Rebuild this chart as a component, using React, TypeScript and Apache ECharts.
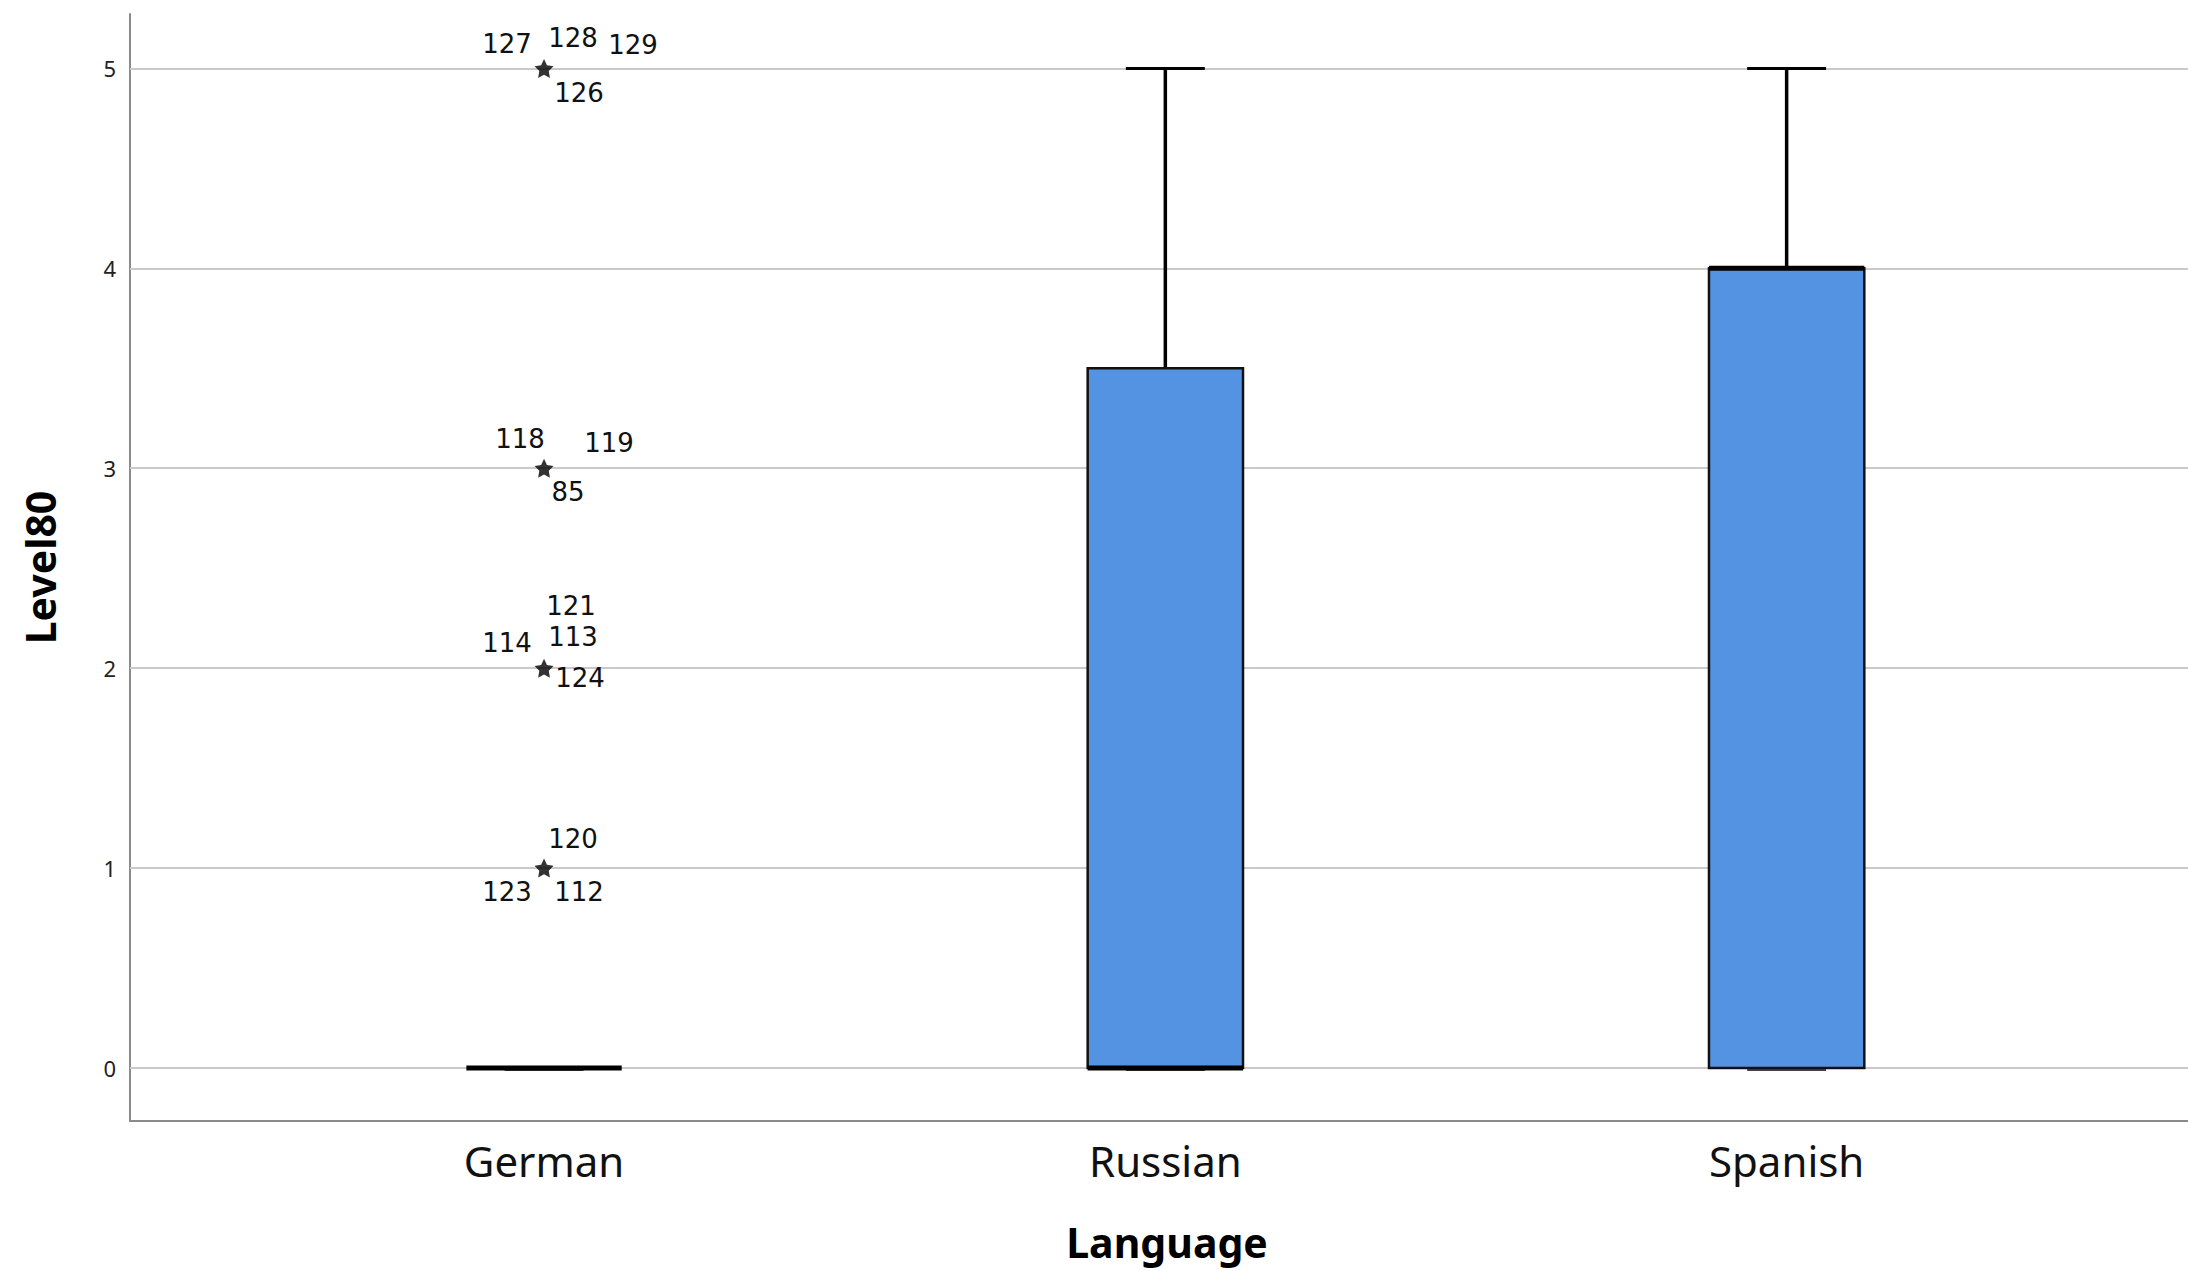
import React, { useEffect, useRef } from "react";
import * as echarts from "echarts";

// ---- data ----
const categories = ["German", "Russian", "Spanish"];
const categoryPositions = [1, 2, 3];
// [min, q1, median, q3, max]
const boxStats = [
  [0, 0, 0, 0, 0],
  [0, 0, 0, 3.5, 5],
  [0, 0, 4, 4, 5],
];
const yTicks = [0, 1, 2, 3, 4, 5];
// extreme outliers (German): value and case numbers
const outlierValues = [5, 3, 2, 1];
const outlierCases = [
  { value: 5, id: "127" },
  { value: 5, id: "128" },
  { value: 5, id: "129" },
  { value: 5, id: "126" },
  { value: 3, id: "118" },
  { value: 3, id: "119" },
  { value: 3, id: "85" },
  { value: 2, id: "121" },
  { value: 2, id: "114" },
  { value: 2, id: "113" },
  { value: 2, id: "124" },
  { value: 1, id: "120" },
  { value: 1, id: "123" },
  { value: 1, id: "112" },
];

// ---- label placement (styling) ----
const labelOffsets: Record<string, [number, number]> = {
  "127": [-37, -24],
  "128": [29, -30],
  "129": [89, -23],
  "126": [35, 25],
  "118": [-24, -29],
  "119": [65, -25],
  "85": [24, 24],
  "121": [27, -62],
  "114": [-37, -25],
  "113": [29, -31],
  "124": [36, 10],
  "120": [29, -29],
  "123": [-37, 24],
  "112": [35, 24],
};

const BOX_WIDTH = 0.25;
const CAP_WIDTH = 0.127;
const FILL = "#5493E2";
const STAR = "path://M0,-10L2.94,-4.05L9.51,-3.09L4.76,1.55L5.88,8.09L0,5L-5.88,8.09L-4.76,1.55L-9.51,-3.09L-2.94,-4.05Z";

export default function App() {
  const ref = useRef<HTMLDivElement>(null);

  useEffect(() => {
    document.body.style.margin = "0";
    const chart = echarts.init(ref.current!, null, { renderer: "svg" });

    const boxData = boxStats.map((s, i) => [categoryPositions[i], ...s]);

    const option: any = {
      animation: false,
      backgroundColor: "#ffffff",
      grid: { left: 130, right: 0, top: 14, bottom: 150, containLabel: false },
      xAxis: {
        type: "value",
        min: 0.3336,
        max: 3.646,
        name: "Language",
        nameLocation: "middle",
        nameGap: 100,
        nameTextStyle: {
          fontFamily: "Noto Sans",
          fontSize: 41,
          fontWeight: "bold",
          color: "#000",
          padding: [0, 0, 0, 16],
        },
        axisLine: { show: true, onZero: false, lineStyle: { color: "#8a8a8a", width: 2 } },
        axisTick: { show: false },
        splitLine: { show: false },
        axisLabel: {
          customValues: categoryPositions,
          formatter: (v: number) => categories[Math.round(v) - 1] ?? "",
          fontFamily: "Noto Sans",
          fontSize: 42,
          color: "#111",
          margin: 18,
        },
      },
      yAxis: {
        type: "value",
        min: -0.265,
        max: 5.272,
        name: "Level80",
        nameLocation: "middle",
        nameGap: 70,
        nameTextStyle: { fontFamily: "Noto Sans", fontSize: 41, fontWeight: "bold", color: "#000" },
        axisLine: { show: true, onZero: false, lineStyle: { color: "#8a8a8a", width: 2 } },
        axisTick: { show: false },
        splitLine: { show: false },
        axisLabel: {
          customValues: yTicks,
          fontFamily: "Noto Sans",
          fontSize: 22,
          color: "#222",
          margin: 14,
        },
      },
      series: [
        {
          type: "custom",
          name: "box",
          z: 3,
          data: boxData,
          encode: { x: 0, y: [1, 2, 3, 4, 5] },
          renderItem: (params: any, api: any) => {
            const x = api.value(0);
            const vMin = api.value(1), q1 = api.value(2), med = api.value(3), q3 = api.value(4), vMax = api.value(5);
            const pMin = api.coord([x, vMin]);
            const pQ1 = api.coord([x, q1]);
            const pMed = api.coord([x, med]);
            const pQ3 = api.coord([x, q3]);
            const pMax = api.coord([x, vMax]);
            const bw = api.size([BOX_WIDTH, 0])[0];
            const cw = api.size([CAP_WIDTH, 0])[0];
            const cx = pMed[0];
            const children: any[] = [];
            const line = (x1: number, y1: number, x2: number, y2: number, w: number, c: string) => ({
              type: "line",
              shape: { x1, y1, x2, y2 },
              style: { stroke: c, lineWidth: w },
            });
            if (vMax > q3) {
              children.push(line(cx, pQ3[1], cx, pMax[1], 3.5, "#000"));
              children.push(line(cx - cw / 2, pMax[1], cx + cw / 2, pMax[1], 3, "#000"));
            }
            children.push(line(cx - cw / 2, pMin[1] + 1.5, cx + cw / 2, pMin[1] + 1.5, 3, "#444"));
            if (vMin < q1) {
              children.push(line(cx, pQ1[1], cx, pMin[1], 3.5, "#000"));
            }
            if (q3 > q1) {
              children.push({
                type: "rect",
                shape: { x: cx - bw / 2, y: pQ3[1], width: bw, height: pQ1[1] - pQ3[1] },
                style: { fill: FILL, stroke: "#111", lineWidth: 2.5 },
              });
            }
            children.push(line(cx - bw / 2, pMed[1], cx + bw / 2, pMed[1], 5, "#000"));
            return { type: "group", children };
          },
        },
        {
          type: "scatter",
          name: "outliers",
          z: 4,
          symbol: STAR,
          symbolSize: 19,
          itemStyle: { color: "#000" },
          data: outlierValues.map((v) => [categoryPositions[0], v]),
          markLine: {
            silent: true,
            symbol: "none",
            z: 1,
            label: { show: false },
            lineStyle: { color: "#c9c9c9", width: 2, type: "solid" },
            data: yTicks.map((t) => ({ yAxis: t })),
          },
        },
        {
          type: "custom",
          name: "caseLabels",
          z: 5,
          data: outlierCases.map((c) => [categoryPositions[0], c.value, c.id]),
          encode: { x: 0, y: 1 },
          renderItem: (params: any, api: any) => {
            const c = outlierCases[params.dataIndex];
            const p = api.coord([api.value(0), api.value(1)]);
            const off = labelOffsets[c.id] || [0, 0];
            return {
              type: "text",
              x: p[0] + off[0],
              y: p[1] + off[1],
              style: {
                text: c.id,
                fontFamily: "DejaVu Sans",
                fontSize: 26,
                fill: "#111",
                align: "center",
                verticalAlign: "middle",
              },
            };
          },
        },
      ],
    };

    chart.setOption(option);
    return () => chart.dispose();
  }, []);

  return (
    <div
      ref={ref}
      style={{ position: "fixed", left: 0, top: 0, width: 2188, height: 1271 }}
    />
  );
}
